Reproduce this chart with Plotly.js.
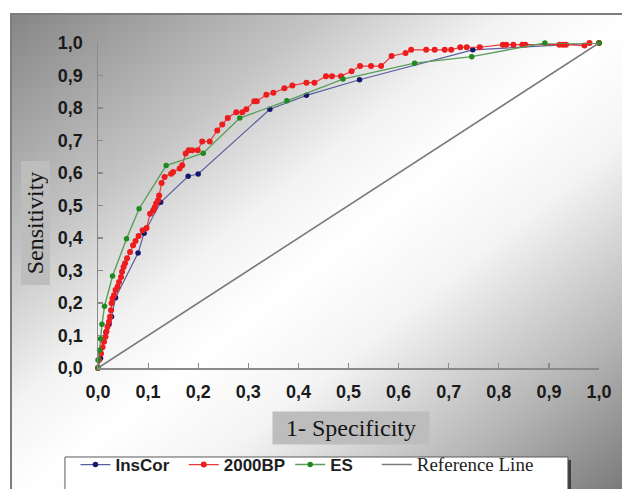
<!DOCTYPE html>
<html>
<head>
<meta charset="utf-8">
<script src="https://cdn.plot.ly/plotly-3.0.1.min.js"></script>
<style>
  html, body { margin:0; padding:0; background:#ffffff; width:622px; height:489px; overflow:hidden; }
  #bg { position:absolute; left:10px; top:13px; width:620px; height:490px;
        border-left:2px solid #7d7d7d; border-top:2px solid #7d7d7d;
        background: linear-gradient(to bottom right, #868686 0%, #c4c4c4 25%, #f3f3f3 40%, #ffffff 50%, #f4f4f4 62%, #b4b4b4 82%, #727272 100%); }
  #chart { position:absolute; left:0; top:0; width:622px; height:489px; }
</style>
</head>
<body>
<div id="bg"></div>
<div id="chart"></div>
<script>
// ---- data ----
const seriesNames = ['InsCor', '2000BP', 'ES', 'Reference Line'];

const insCorX = [0, 0.005, 0.016, 0.022, 0.027, 0.035, 0.08, 0.092, 0.125, 0.18, 0.2, 0.343, 0.416, 0.522, 0.748, 1.0];
const insCorY = [0, 0.03, 0.11, 0.135, 0.158, 0.216, 0.354, 0.415, 0.51, 0.59, 0.597, 0.796, 0.839, 0.887, 0.979, 1.0];

const bp2000X = [0, 0.002, 0.006, 0.009, 0.012, 0.015, 0.017, 0.019, 0.022, 0.024, 0.026, 0.027, 0.029, 0.032, 0.035, 0.039, 0.042, 0.046, 0.048, 0.051, 0.054, 0.058, 0.064, 0.07, 0.075, 0.081, 0.089, 0.097, 0.104, 0.11, 0.113, 0.116, 0.12, 0.122, 0.127, 0.133, 0.146, 0.15, 0.163, 0.168, 0.175, 0.181, 0.188, 0.199, 0.208, 0.223, 0.238, 0.248, 0.259, 0.276, 0.288, 0.296, 0.312, 0.317, 0.336, 0.35, 0.372, 0.388, 0.416, 0.432, 0.455, 0.467, 0.485, 0.506, 0.523, 0.545, 0.565, 0.586, 0.614, 0.625, 0.655, 0.672, 0.692, 0.705, 0.723, 0.736, 0.762, 0.808, 0.815, 0.829, 0.847, 0.853, 0.921, 0.928, 0.934, 0.971, 0.981, 1.0];
const bp2000Y = [0, 0.025, 0.045, 0.064, 0.081, 0.096, 0.112, 0.127, 0.142, 0.158, 0.178, 0.199, 0.214, 0.224, 0.24, 0.25, 0.265, 0.28, 0.296, 0.311, 0.322, 0.338, 0.357, 0.378, 0.391, 0.406, 0.424, 0.431, 0.475, 0.485, 0.494, 0.506, 0.516, 0.531, 0.569, 0.588, 0.598, 0.603, 0.614, 0.624, 0.66, 0.67, 0.67, 0.67, 0.697, 0.697, 0.731, 0.749, 0.769, 0.787, 0.787, 0.796, 0.821, 0.821, 0.841, 0.847, 0.861, 0.869, 0.878, 0.878, 0.898, 0.898, 0.898, 0.913, 0.929, 0.929, 0.929, 0.96, 0.969, 0.979, 0.979, 0.979, 0.979, 0.979, 0.987, 0.987, 0.987, 0.995, 0.995, 0.995, 0.995, 0.995, 0.995, 0.995, 0.995, 0.992, 1.0, 1.0];

const esX = [0, 0, 0.003, 0.005, 0.008, 0.013, 0.029, 0.057, 0.082, 0.136, 0.21, 0.283, 0.377, 0.489, 0.632, 0.746, 0.892, 1.0];
const esY = [0, 0.025, 0.055, 0.09, 0.135, 0.19, 0.283, 0.398, 0.49, 0.623, 0.661, 0.769, 0.822, 0.889, 0.938, 0.958, 1.0, 1.0];

const refX = [0, 1];
const refY = [0, 1];

const tickVals = [0, 0.1, 0.2, 0.3, 0.4, 0.5, 0.6, 0.7, 0.8, 0.9, 1.0];
const xTitle = '1- Specificity';
const yTitle = 'Sensitivity';

// ---- chart ----
const traces = [
  { x: insCorX, y: insCorY, name: seriesNames[0] + '\u00a0\u00a0', type: 'scatter', mode: 'lines+markers',
    line: { color: '#5b5f9e', width: 1.2 }, marker: { color: '#16186e', size: 5.5 }, cliponaxis: false },
  { x: bp2000X, y: bp2000Y, name: seriesNames[1], type: 'scatter', mode: 'lines+markers',
    line: { color: '#e83a3a', width: 1.2 }, marker: { color: '#ee1c1c', size: 6 }, cliponaxis: false },
  { x: esX, y: esY, name: seriesNames[2] + '\u00a0\u00a0\u00a0\u00a0', type: 'scatter', mode: 'lines+markers',
    line: { color: '#5a9e5a', width: 1.4 }, marker: { color: '#1e8a1e', size: 5.5 }, cliponaxis: false },
  { x: refX, y: refY, name: '<span style="font-family:\'Liberation Serif\';font-weight:normal;font-size:19px">' + seriesNames[3] + '</span>',
    type: 'scatter', mode: 'lines', line: { color: '#7a7a7a', width: 1.6 }, cliponaxis: false }
];

const axisCommon = {
  range: [0, 1], tickvals: tickVals, tickformat: '.1f',
  ticks: 'inside', ticklen: 5, tickwidth: 1.2, tickcolor: '#8a8a8a',
  showline: true, linecolor: '#8a8a8a', linewidth: 1.5,
  showgrid: false, zeroline: false, fixedrange: true,
  tickfont: { family: 'Liberation Sans, Arial, sans-serif', size: 18, color: '#1a1a1a', weight: 'bold' }
};

const layout = {
  width: 622, height: 489,
  margin: { l: 98, r: 23, t: 43, b: 121, pad: 0, autoexpand: false },
  paper_bgcolor: 'rgba(0,0,0,0)', plot_bgcolor: 'rgba(0,0,0,0)',
  separators: ', ',
  showlegend: true,
  xaxis: Object.assign({}, axisCommon, { ticklabelstandoff: 7 }),
  yaxis: Object.assign({}, axisCommon, { ticklabelstandoff: 10 }),
  legend: {
    orientation: 'h', x: -0.045, xanchor: 'left', y: -0.243, yanchor: 'top',
    bgcolor: 'rgba(0,0,0,0)', borderwidth: 0,
    font: { family: 'Liberation Sans, Arial, sans-serif', size: 17, color: '#1e1e1e', weight: 'bold' },
    traceorder: 'normal'
  },
  shapes: [
    { type: 'rect', xref: 'paper', yref: 'paper', x0: -0.06, x1: 0.944, y0: -0.283, y1: -0.45,
      fillcolor: '#3c3c3c', line: { width: 0 }, layer: 'above' },
    { type: 'rect', xref: 'paper', yref: 'paper', x0: -0.0659, x1: 0.938, y0: -0.2738, y1: -0.45,
      fillcolor: '#ffffff', line: { color: '#5a5a5a', width: 1 }, layer: 'above' }
  ],
  annotations: [
    { text: yTitle, xref: 'paper', yref: 'paper', x: -0.1238, y: 0.4477, xanchor: 'center', yanchor: 'middle',
      showarrow: false, textangle: -90, bgcolor: '#bdbdbd', width: 121, height: 26,
      font: { family: 'Liberation Serif, Times New Roman, serif', size: 24, color: '#151515' } },
    { text: xTitle, xref: 'paper', yref: 'paper', x: 0.505, y: -0.1846, xanchor: 'center', yanchor: 'middle',
      showarrow: false, bgcolor: '#bdbdbd', width: 154, height: 30,
      font: { family: 'Liberation Serif, Times New Roman, serif', size: 24, color: '#151515' } }
  ]
};

Plotly.newPlot('chart', traces, layout, { displayModeBar: false, staticPlot: true });
</script>
</body>
</html>
